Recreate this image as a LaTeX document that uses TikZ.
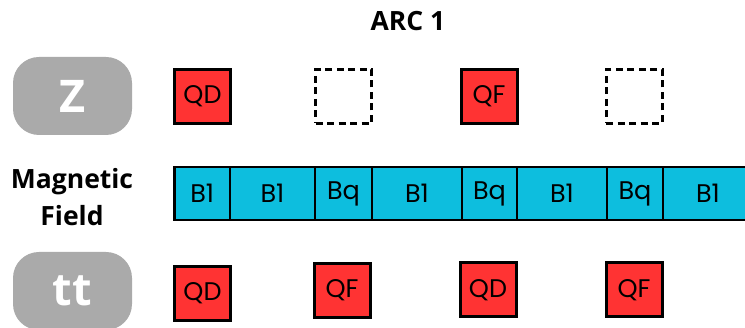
\documentclass[tikz,border=0pt]{standalone}
\usepackage{fontspec}
\setmainfont{Open Sans}
\newfontfamily\boxfont{Poppins}
\definecolor{qred}{RGB}{255,51,51}
\definecolor{bcyan}{RGB}{13,190,222}
\definecolor{pillgray}{RGB}{170,170,170}
\begin{document}
\begin{tikzpicture}[x=1pt,y=-1pt,
  quad/.style={draw=black,line width=3pt,fill=qred,inner sep=0pt,minimum width=56pt,minimum height=54pt,font=\boxfont\fontsize{25.5}{28}\selectfont},
  emptyquad/.style={draw=black,line width=3pt,dashed,dash pattern=on 7pt off 4.5pt,inner sep=0pt,minimum width=56pt,minimum height=54pt},
  seg/.style={draw=black,line width=2.5pt,fill=bcyan,inner sep=0pt,minimum height=53pt,font=\boxfont\fontsize{25.5}{28}\selectfont},
  pill/.style={fill=pillgray,rounded corners=26pt,inner sep=0pt,minimum width=119pt,minimum height=78pt,text=white,font=\bfseries\fontsize{45}{48}\selectfont},
  lbl/.style={font=\bfseries\fontsize{26.5}{37}\selectfont,align=center}]
\useasboundingbox (0,0) rectangle (745,328);
\clip (0,0) rectangle (745,328);
\node[lbl] (arc) at (408,21) {ARC 1};
% row Z
\node[pill] (z) at (72.5,96) {Z};
\node[quad] (zqd) at (202.5,96.5) {QD};
\node[emptyquad] (ze1) at (343.5,96.5) {};
\node[quad] (zqf) at (489,96.5) {QF};
\node[emptyquad] (ze2) at (634,96.5) {};
% magnetic field
\node[lbl] (mf) at (72,197) {Magnetic\\Field};
\node[seg,minimum width=55.5pt] (s1) at (202.25,193.5) {B1};
\node[seg,minimum width=85pt] (s2) at (272.5,193.5) {B1};
\node[seg,minimum width=57pt] (s3) at (343.5,193.5) {Bq};
\node[seg,minimum width=90pt] (s4) at (417,193.5) {B1};
\node[seg,minimum width=55pt] (s5) at (489.5,193.5) {Bq};
\node[seg,minimum width=90pt] (s6) at (562,193.5) {B1};
\node[seg,minimum width=56pt] (s7) at (635,193.5) {Bq};
\node[seg,minimum width=90pt] (s8) at (708,193.5) {B1};
% row tt
\node[pill] (tt) at (72.5,291) {tt};
\node[quad] (tqd1) at (202.5,293.5) {QD};
\node[quad] (tqf1) at (342,290.5) {QF};
\node[quad] (tqd2) at (488,290) {QD};
\node[quad] (tqf2) at (634,290) {QF};
\end{tikzpicture}
\end{document}
